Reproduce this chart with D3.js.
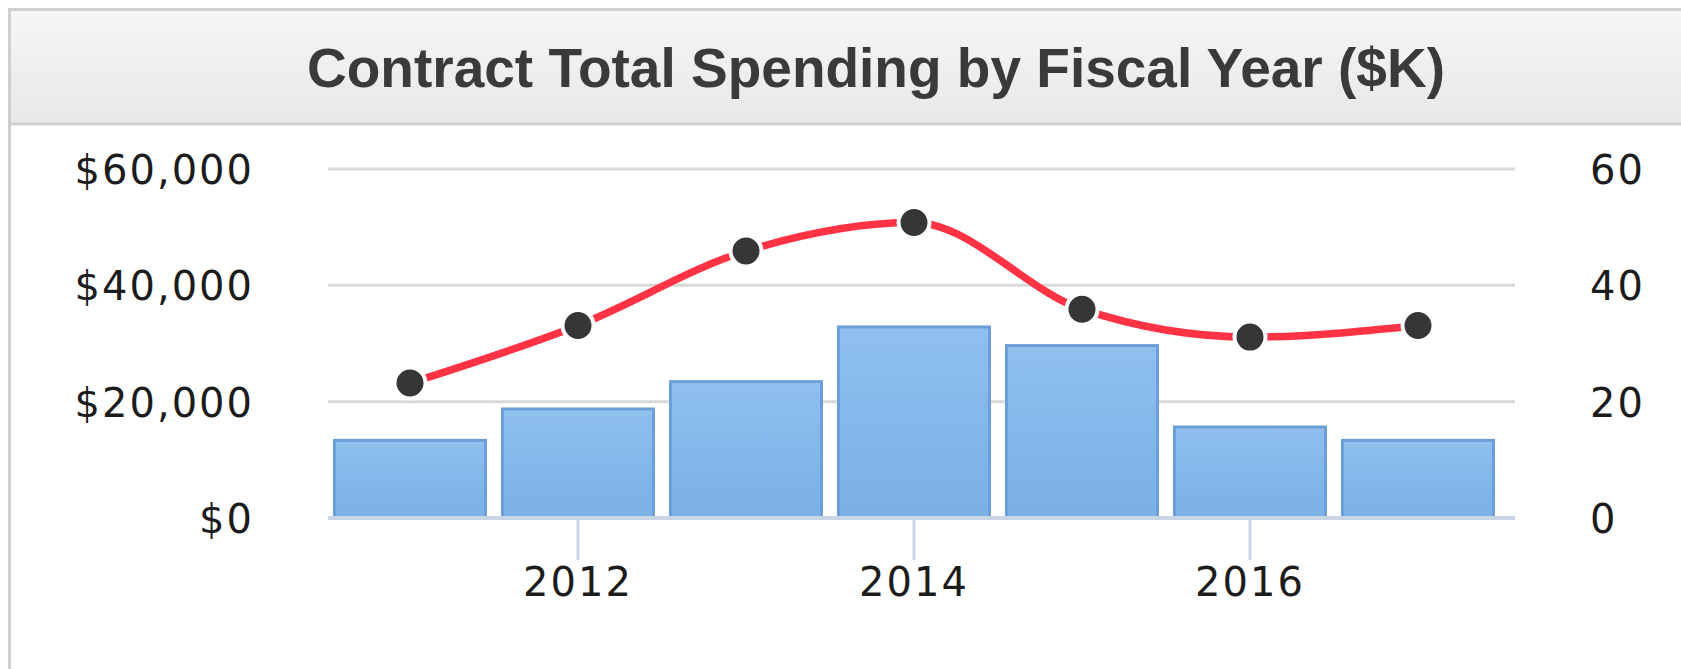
<!DOCTYPE html>
<html>
<head>
<meta charset="utf-8">
<script src="https://cdn.jsdelivr.net/npm/d3@7"></script>
<style>
  body { margin: 0; background: #fff; }
  .axis text { font-family: "DejaVu Sans", sans-serif; font-size: 40px; letter-spacing: 2px; fill: #1c1c1c; }
  .axis .domain { display: none; }
</style>
</head>
<body>
<div id="chart"></div>
<script>
// data
var years = [2011, 2012, 2013, 2014, 2015, 2016, 2017];
var spending = [13600, 19000, 23700, 33100, 29900, 15900, 13600];   // $K, left axis
var counts = [23.2, 33.1, 45.9, 50.8, 35.9, 31.1, 33.1];            // right axis
var leftTicks = [0, 20000, 40000, 60000];
var rightTicks = [0, 20, 40, 60];
var yearTicks = [2012, 2014, 2016];
var title = "Contract Total Spending by Fiscal Year ($K)";

var W = 1681, H = 669;

var svg = d3.select("#chart").append("svg")
    .attr("width", W)
    .attr("height", H);

var defs = svg.append("defs");
var hg = defs.append("linearGradient").attr("id", "hdr").attr("x1", 0).attr("y1", 0).attr("x2", 0).attr("y2", 1);
hg.append("stop").attr("offset", "0%").attr("stop-color", "#f6f6f6");
hg.append("stop").attr("offset", "100%").attr("stop-color", "#e8e8e8");
var bg = defs.append("linearGradient").attr("id", "bar").attr("x1", 0).attr("y1", 0).attr("x2", 0).attr("y2", 1);
bg.append("stop").attr("offset", "0%").attr("stop-color", "#8fc0ef");
bg.append("stop").attr("offset", "100%").attr("stop-color", "#7ab0e6");

// panel + header
svg.append("rect")
    .attr("x", 9.5).attr("y", 9.5)
    .attr("width", 1700).attr("height", 700)
    .attr("fill", "#fff")
    .attr("stroke", "#cfcfcf")
    .attr("stroke-width", 3);
svg.append("rect")
    .attr("x", 11).attr("y", 11)
    .attr("width", 1700).attr("height", 112)
    .attr("fill", "url(#hdr)");
svg.append("line")
    .attr("x1", 11).attr("x2", W)
    .attr("y1", 124).attr("y2", 124)
    .attr("stroke", "#d0d0d0")
    .attr("stroke-width", 3);

svg.append("text")
    .attr("x", 876).attr("y", 87)
    .attr("text-anchor", "middle")
    .attr("font-family", "'Liberation Sans', Arial, sans-serif")
    .attr("font-weight", "bold")
    .attr("font-size", 55)
    .attr("fill", "#3a3a3a")
    .text(title);

// scales
var x = d3.scaleBand()
    .domain(years)
    .range([326, 1502])
    .paddingInner(0.0833)
    .paddingOuter(0.0417);

var y = d3.scaleLinear().domain([0, 60000]).range([518, 169]);
var y2 = d3.scaleLinear().domain([0, 60]).range([518, 169]);

var gridX0 = 328, gridX1 = 1515;

// gridlines
svg.append("g").selectAll("line")
    .data(leftTicks.filter(function(d) { return d > 0; }))
  .enter().append("line")
    .attr("x1", gridX0).attr("x2", gridX1)
    .attr("y1", function(d) { return y(d); })
    .attr("y2", function(d) { return y(d); })
    .attr("stroke", "#d9d9d9")
    .attr("stroke-width", 3);

// left axis
svg.append("g")
    .attr("class", "axis")
    .attr("transform", "translate(254,0)")
    .call(d3.axisLeft(y).tickValues(leftTicks).tickSize(0).tickPadding(0).tickFormat(d3.format("$,")))
    .selectAll("text").attr("dy", "0.36em");

// right axis
svg.append("g")
    .attr("class", "axis")
    .attr("transform", "translate(1590,0)")
    .call(d3.axisRight(y2).tickValues(rightTicks).tickSize(0).tickPadding(0))
    .selectAll("text").attr("dy", "0.36em");

// bars
svg.append("g").selectAll("rect")
    .data(years)
  .enter().append("rect")
    .attr("x", function(d) { return x(d) + 1.5; })
    .attr("y", function(d, i) { return y(spending[i]) + 1.5; })
    .attr("width", x.bandwidth() - 3)
    .attr("height", function(d, i) { return y(0) - y(spending[i]) - 1.5; })
    .attr("fill", "url(#bar)")
    .attr("stroke", "#6c9fd7")
    .attr("stroke-width", 3);

// x axis
var xg = svg.append("g")
    .attr("class", "axis")
    .attr("transform", "translate(0,518)")
    .call(d3.axisBottom(x).tickValues(yearTicks).tickSize(42).tickPadding(8));
xg.selectAll(".tick line").attr("stroke", "#c9d5e5").attr("stroke-width", 3);
xg.selectAll("text").attr("dy", "0.71em");
svg.append("line")
    .attr("x1", gridX0).attr("x2", gridX1)
    .attr("y1", 518).attr("y2", 518)
    .attr("stroke", "#c9d5e5")
    .attr("stroke-width", 4);

// line series
var cx = function(i) { return x(years[i]) + x.bandwidth() / 2; };
var line = d3.line()
    .x(function(d, i) { return cx(i); })
    .y(function(d) { return y2(d); })
    .curve(d3.curveMonotoneX);

svg.append("path")
    .datum(counts)
    .attr("d", line)
    .attr("fill", "none")
    .attr("stroke", "#ff3344")
    .attr("stroke-width", 7.5);

svg.append("g").selectAll("circle")
    .data(counts)
  .enter().append("circle")
    .attr("cx", function(d, i) { return cx(i); })
    .attr("cy", function(d) { return y2(d); })
    .attr("r", 15.5)
    .attr("fill", "#363636")
    .attr("stroke", "#fff")
    .attr("stroke-width", 4);
</script>
</body>
</html>
